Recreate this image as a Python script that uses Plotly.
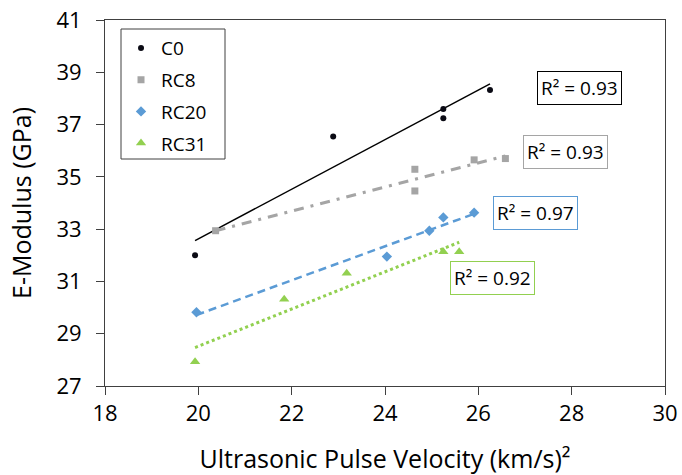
import numpy as np
import plotly.graph_objects as go

series_names = ["C0", "RC8", "RC20", "RC31"]
c0_x = [19.93, 22.89, 25.25, 25.25, 26.25]
c0_y = [32.00, 36.54, 37.60, 37.24, 38.32]
rc8_x = [20.37, 24.64, 24.64, 25.91, 26.58]
rc8_y = [32.94, 35.29, 34.46, 35.65, 35.70]
rc20_x = [19.96, 24.04, 24.95, 25.25, 25.91]
rc20_y = [29.82, 31.95, 32.94, 33.45, 33.63]
rc31_x = [19.93, 21.84, 23.18, 25.25, 25.59]
rc31_y = [27.93, 30.32, 31.31, 32.14, 32.14]
r2_labels = ["R² = 0.93", "R² = 0.93", "R² = 0.97", "R² = 0.92"]
r2_pos_x = [28.17, 27.87, 27.22, 26.31]
r2_pos_y = [38.39, 35.96, 33.61, 31.12]

xs = [c0_x, rc8_x, rc20_x, rc31_x]
ys = [c0_y, rc8_y, rc20_y, rc31_y]
colors = ["#0a0a14", "#A5A5A5", "#5B9BD5", "#92D050"]
symbols = ["circle", "square", "diamond", "triangle-up"]
msizes = [6, 7, 8, 9]
line_styles = [
    dict(color="#000000", width=1.5, dash="solid"),
    dict(color="#A5A5A5", width=3, dash="10px,7px,3px,7px"),
    dict(color="#5B9BD5", width=2.5, dash="8px,5px"),
    dict(color="#92D050", width=3, dash="3px,3px"),
]
box_colors = ["#000000", "#A5A5A5", "#5B9BD5", "#92D050"]

FONT = "Open Sans"
fig = go.Figure()

for i in range(4):
    x = np.array(xs[i]); y = np.array(ys[i])
    m, b = np.polyfit(x, y, 1)
    lx = np.array([x.min(), x.max()])
    fig.add_trace(go.Scatter(x=lx, y=m * lx + b, mode="lines", line=line_styles[i],
                             showlegend=False, hoverinfo="skip"))

for i in range(4):
    fig.add_trace(go.Scatter(
        x=xs[i], y=ys[i], mode="markers", name=series_names[i],
        legendgroup=series_names[i],
        marker=dict(color=colors[i], symbol=symbols[i], size=msizes[i],
                    line=dict(width=0)),
    ))

for i in range(4):
    fig.add_annotation(x=r2_pos_x[i], y=r2_pos_y[i], xref="x", yref="y",
                       text=r2_labels[i], showarrow=False,
                       font=dict(family=FONT, size=19, color="#000000"),
                       bordercolor=box_colors[i], borderwidth=1, borderpad=3,
                       bgcolor="white")

axis_common = dict(showline=True, linecolor="#404040", linewidth=1, mirror=True,
                   ticks="outside", ticklen=8, tickcolor="#404040", showgrid=False,
                   zeroline=False, automargin=False,
                   tickfont=dict(family=FONT, size=22, color="#000000"))

# legend frame (styling only)
fig.add_shape(type="rect", xref="paper", yref="paper",
              x0=16 / 560, x1=120 / 560, y0=1 - 139 / 366, y1=1 - 9 / 366,
              line=dict(color="#404040", width=1), fillcolor="rgba(0,0,0,0)", layer="above")

fig.update_layout(
    width=682, height=475,
    margin=dict(l=105, r=17, t=20, b=89),
    paper_bgcolor="white", plot_bgcolor="white",
    xaxis=dict(range=[18, 30], dtick=2, tick0=18, **axis_common,
               title=dict(text="Ultrasonic Pulse Velocity (km/s)²",
                          font=dict(family=FONT, size=25, color="#000000"), standoff=29)),
    yaxis=dict(range=[27, 41], dtick=2, tick0=27, **axis_common, ticklabelstandoff=10,
               title=dict(text="E-Modulus (GPa)",
                          font=dict(family=FONT, size=25, color="#000000"), standoff=17)),
    legend=dict(x=0.0286, y=0.975, xanchor="left", yanchor="top",
                borderwidth=0, bgcolor="rgba(0,0,0,0)",
                font=dict(family=FONT, size=19, color="#000000"),
                tracegroupgap=4),
    showlegend=True,
)

fig.write_html("out.html")
